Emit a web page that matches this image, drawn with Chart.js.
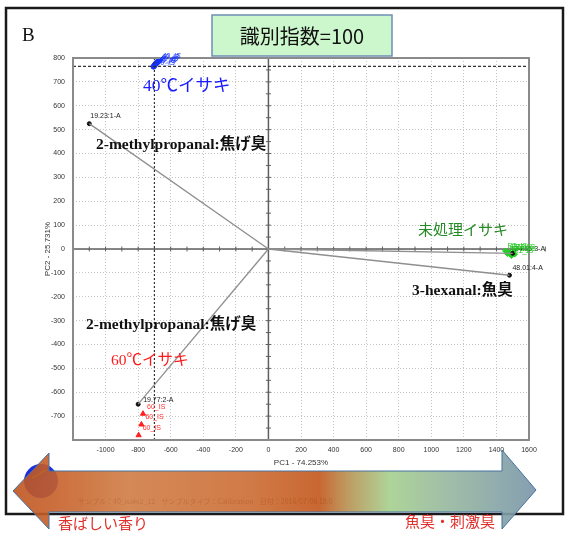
<!DOCTYPE html>
<html>
<head>
<meta charset="utf-8">
<script src="https://cdn.jsdelivr.net/npm/chart.js@4.4.0/dist/chart.umd.min.js"></script>
<style>
  html, body { margin: 0; padding: 0; background: #fff; }
  canvas { display: block; }
</style>
</head>
<body>
<canvas id="pca" width="568" height="537"></canvas>
<script>
// 軸の目盛り
const xTicks = [-1200, -1000, -800, -600, -400, -200, 0, 200, 400, 600, 800, 1000, 1200, 1400, 1600];
const yTicks = [-800, -700, -600, -500, -400, -300, -200, -100, 0, 100, 200, 300, 400, 500, 600, 700, 800];

// ローディング（センサー）
const loadingNames = ['19.23:1-A', '19.77:2-A', '24.55:3-A', '48.01:4-A'];
const loadingX = [-1100, -800, 1500, 1480];
const loadingY = [525, -650, -18, -110];

// サンプル
const is40X = [-705, -699, -692, -685, -677, -670];
const is40Y = [764, 770, 776, 781, 786, 790];
const is60X = [-770, -780, -797];
const is60Y = [-690, -735, -780];
const rawX = [1455, 1468, 1480, 1492, 1505, 1512];
const rawY = [-8, -20, -14, -28, -12, -22];

// カーソル位置
const cursorX = -700;
const cursorY = 765;

const SANS = "'Liberation Sans Narrow', 'Liberation Sans', Arial, sans-serif";
const SERIF = "'Liberation Serif', 'Noto Sans CJK JP', serif";
const JP = "'Noto Sans CJK JP', sans-serif";

function pts(xs, ys) {
  return xs.map((x, i) => ({ x: x, y: ys[i] }));
}

const datasets = [
  {
    data: [{ x: xTicks[0], y: cursorY }, { x: xTicks[xTicks.length - 1], y: cursorY }],
    showLine: true, borderColor: '#333', borderWidth: 1.2, borderDash: [3, 2], pointRadius: 0
  },
  {
    data: [{ x: cursorX, y: yTicks[0] }, { x: cursorX, y: yTicks[yTicks.length - 1] }],
    showLine: true, borderColor: '#333', borderWidth: 1.2, borderDash: [2, 2], pointRadius: 0
  }
];

loadingX.forEach((lx, i) => {
  datasets.push({
    data: [{ x: 0, y: 0 }, { x: lx, y: loadingY[i] }],
    showLine: true, borderColor: '#8f8f8f', borderWidth: 1.3, pointRadius: 0
  });
});

datasets.push({
  data: pts(loadingX, loadingY), pointRadius: 2, pointBackgroundColor: '#111', pointBorderColor: '#111',
  labels: loadingNames, labelColor: '#222', labelDx: [1, 5, 2, 3], labelDy: [-6, -2, -2, -5]
});
datasets.push({
  data: pts(is40X, is40Y), pointRadius: 2.6, pointBackgroundColor: '#1433ff', pointBorderColor: '#1433ff',
  labels: is40X.map(() => '40_IS'), labelColor: '#1433ff', labelItalic: true, labelDx: 3, labelDy: -2
});
datasets.push({
  data: pts(is60X, is60Y), pointStyle: 'triangle', pointRadius: 3, pointBackgroundColor: '#ff2020', pointBorderColor: '#ff2020',
  labels: is60X.map(() => '60_IS'), labelColor: '#ff3030', labelDx: 4, labelDy: -5
});
datasets.push({
  data: pts(rawX, rawY), pointStyle: 'rectRot', pointRadius: 2.8, pointBackgroundColor: '#22d022', pointBorderColor: '#22d022',
  labels: rawX.map(() => 'RT_IS'), labelColor: '#22c822', labelDx: 2, labelDy: -3
});

// 図中の注記
const notes = [
  { text: '40℃イサキ', x: 143, y: 86, size: 17.5, color: '#1a1aff', weight: '' },
  { text: '2-methylpropanal:焦げ臭', x: 96, y: 145, size: 15.5, color: '#111', weight: 'bold ' },
  { text: '未処理イサキ', x: 418, y: 231, size: 15, color: '#248a24', weight: '' },
  { text: '3-hexanal:魚臭', x: 412, y: 291, size: 15.5, color: '#111', weight: 'bold ' },
  { text: '2-methylpropanal:焦げ臭', x: 86, y: 325, size: 15.5, color: '#111', weight: 'bold ' },
  { text: '60℃イサキ', x: 111, y: 361, size: 15.5, color: '#ff1a1a', weight: '' }
];

function drawArrow(ctx) {
  const g = ctx.createLinearGradient(13, 0, 536, 0);
  g.addColorStop(0, '#bf5420');
  g.addColorStop(0.08, '#c65f28');
  g.addColorStop(0.22, '#cf7c43');
  g.addColorStop(0.45, '#cb6c33');
  g.addColorStop(0.585, '#c3561a');
  g.addColorStop(0.64, '#b79050');
  g.addColorStop(0.72, '#a5cf8d');
  g.addColorStop(0.82, '#97b99d');
  g.addColorStop(1, '#7894a9');
  ctx.save();
  ctx.beginPath();
  ctx.moveTo(13, 491);
  ctx.lineTo(49, 453);
  ctx.lineTo(49, 471);
  ctx.lineTo(502, 471);
  ctx.lineTo(502, 450);
  ctx.lineTo(536, 490);
  ctx.lineTo(502, 529);
  ctx.lineTo(502, 512);
  ctx.lineTo(49, 512);
  ctx.lineTo(49, 529);
  ctx.closePath();
  ctx.globalAlpha = 0.9;
  ctx.fillStyle = g;
  ctx.fill();
  ctx.globalAlpha = 1;
  ctx.strokeStyle = '#4472a0';
  ctx.lineWidth = 1;
  ctx.stroke();
  ctx.restore();
}

const decor = {
  id: 'decor',
  beforeDraw(chart) {
    const ctx = chart.ctx;
    ctx.save();
    ctx.fillStyle = '#fff';
    ctx.fillRect(0, 0, chart.width, chart.height);
    ctx.restore();
  },
  beforeDatasetsDraw(chart) {
    const { ctx, chartArea: a, scales: { x, y } } = chart;
    const x0 = x.getPixelForValue(0);
    const y0 = y.getPixelForValue(0);
    ctx.save();
    ctx.strokeStyle = '#5f5f5f';
    ctx.lineWidth = 1.5;
    ctx.beginPath();
    ctx.moveTo(a.left, y0);
    ctx.lineTo(a.right, y0);
    ctx.moveTo(x0, a.top);
    ctx.lineTo(x0, a.bottom);
    ctx.stroke();
    // 原点軸の小目盛り
    ctx.lineWidth = 1;
    ctx.beginPath();
    xTicks.forEach(v => {
      [v, v + 100].forEach(t => {
        const px = x.getPixelForValue(t);
        ctx.moveTo(px, y0 - 2.5);
        ctx.lineTo(px, y0 + 2.5);
      });
    });
    yTicks.forEach(v => {
      [v, v + 50].forEach(t => {
        const py = y.getPixelForValue(t);
        ctx.moveTo(x0 - 2.5, py);
        ctx.lineTo(x0 + 2.5, py);
      });
    });
    ctx.stroke();
    ctx.restore();
  },
  afterDatasetsDraw(chart) {
    const { ctx, chartArea: a } = chart;
    ctx.save();
    // プロット枠
    ctx.strokeStyle = '#8a8a8a';
    ctx.lineWidth = 2;
    ctx.strokeRect(a.left, a.top, a.right - a.left, a.bottom - a.top);

    // 点ラベル
    ctx.textBaseline = 'alphabetic';
    ctx.textAlign = 'left';
    chart.data.datasets.forEach((ds, di) => {
      if (!ds.labels) return;
      const meta = chart.getDatasetMeta(di);
      ctx.font = (ds.labelItalic ? 'italic ' : '') + '7px ' + SANS;
      ctx.fillStyle = ds.labelColor;
      meta.data.forEach((el, i) => {
        const dx = Array.isArray(ds.labelDx) ? ds.labelDx[i] : ds.labelDx;
        const dy = Array.isArray(ds.labelDy) ? ds.labelDy[i] : ds.labelDy;
        ctx.fillText(ds.labels[i], el.x + dx, el.y + dy);
      });
    });

    // 注記
    ctx.textBaseline = 'middle';
    notes.forEach(n => {
      ctx.font = n.weight + n.size + 'px ' + SERIF;
      ctx.fillStyle = n.color;
      ctx.fillText(n.text, n.x, n.y);
    });
    ctx.restore();
  },
  afterDraw(chart) {
    const ctx = chart.ctx;
    ctx.save();
    // 外枠
    ctx.strokeStyle = '#1a1a1a';
    ctx.lineWidth = 2.5;
    ctx.strokeRect(6, 8, 557, 506);

    // B
    ctx.fillStyle = '#111';
    ctx.font = '19px ' + SERIF;
    ctx.textBaseline = 'middle';
    ctx.textAlign = 'left';
    ctx.fillText('B', 22, 36);

    // タイトルボックス
    ctx.fillStyle = '#ccf6cc';
    ctx.fillRect(212, 15, 180, 41);
    ctx.strokeStyle = '#6d8fb6';
    ctx.lineWidth = 1.5;
    ctx.strokeRect(212, 15, 180, 41);
    ctx.fillStyle = '#111';
    ctx.font = '20px ' + JP;
    ctx.textAlign = 'center';
    ctx.fillText('識別指数=100', 302, 36);

    // 矢印の下のフッター
    ctx.font = '7px ' + JP;
    ctx.textAlign = 'left';
    ctx.fillStyle = '#444';
    ctx.fillText('サンプル：40_isaki2_12    サンプルタイプ：Calibration    日付：2016/07/06 18:0', 78, 501);

    // 青いロゴ
    ctx.fillStyle = '#1d2de0';
    ctx.beginPath();
    ctx.arc(41, 481, 17, 0, Math.PI * 2);
    ctx.fill();
    ctx.strokeStyle = '#2fbf3f';
    ctx.lineWidth = 1.5;
    ctx.beginPath();
    ctx.moveTo(32, 478);
    ctx.lineTo(46, 470);
    ctx.stroke();
    ctx.restore();

    drawArrow(ctx);

    ctx.save();
    ctx.fillStyle = '#e0302c';
    ctx.font = '15px ' + SERIF;
    ctx.textBaseline = 'middle';
    ctx.textAlign = 'left';
    ctx.fillText('香ばしい香り', 58, 525);
    ctx.fillText('魚臭・刺激臭', 405, 523);
    ctx.restore();
  }
};

new Chart(document.getElementById('pca'), {
  type: 'scatter',
  data: { datasets: datasets },
  options: {
    responsive: false,
    animation: false,
    layout: { padding: { left: 43, right: 39, top: 58, bottom: 67 } },
    plugins: { legend: { display: false }, tooltip: { enabled: false } },
    scales: {
      x: {
        type: 'linear',
        min: xTicks[0],
        max: xTicks[xTicks.length - 1],
        afterFit(s) { s.height = 30; },
        afterBuildTicks(s) { s.ticks = xTicks.map(v => ({ value: v })); },
        grid: { color: '#c4c4c4', lineWidth: 1, drawTicks: false },
        border: { display: false, dash: [1, 2] },
        ticks: {
          autoSkip: false, maxRotation: 0, padding: 6, color: '#333',
          font: { size: 7, family: SANS },
          callback: v => (v === xTicks[0] ? '' : String(v))
        },
        title: { display: true, text: 'PC1 - 74.253%', color: '#333', font: { size: 8, family: SANS }, padding: { top: 0, bottom: 2 } }
      },
      y: {
        type: 'linear',
        min: yTicks[0],
        max: yTicks[yTicks.length - 1],
        afterFit(s) { s.width = 30; },
        afterBuildTicks(s) { s.ticks = yTicks.map(v => ({ value: v })); },
        grid: { color: '#c4c4c4', lineWidth: 1, drawTicks: false },
        border: { display: false, dash: [1, 2] },
        ticks: {
          autoSkip: false, padding: 8, color: '#333',
          font: { size: 7, family: SANS },
          callback: v => (v === yTicks[0] ? '' : String(v))
        },
        title: { display: true, text: 'PC2 - 25.731%', color: '#333', font: { size: 8, family: SANS }, padding: { top: 0, bottom: 0 } }
      }
    }
  },
  plugins: [decor]
});
</script>
</body>
</html>
